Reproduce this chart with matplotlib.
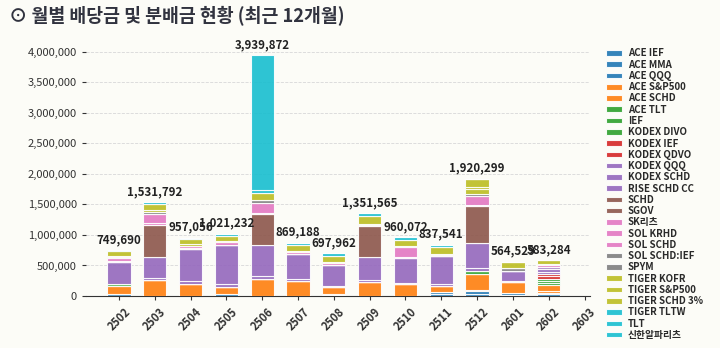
import numpy as np
import matplotlib
matplotlib.use("Agg")
import matplotlib.pyplot as plt
from matplotlib.ticker import FuncFormatter

plt.rcParams['font.family'] = ['Noto Sans CJK KR', 'DejaVu Sans']

months = ["2502", "2503", "2504", "2505", "2506", "2507", "2508",
          "2509", "2510", "2511", "2512", "2601", "2602", "2603"]

series_names = ["ACE IEF", "ACE MMA", "ACE QQQ", "ACE S&P500", "ACE SCHD", "ACE TLT",
                "IEF", "KODEX DIVO", "KODEX IEF", "KODEX QDVO", "KODEX QQQ", "KODEX SCHD",
                "RISE SCHD CC", "SCHD", "SGOV", "SK리츠", "SOL KRHD", "SOL SCHD",
                "SOL SCHD:IEF", "SPYM", "TIGER KOFR", "TIGER S&P500", "TIGER SCHD 3%",
                "TIGER TLTW", "TLT", "신한알파리츠"]

#                2502   2503   2504   2505   2506     2507   2508   2509   2510   2511   2512   2601   2602  2603
ace_ief      = [40000,     0,     0,     0,       0,     0, 20000,     0,     0, 35000, 40000, 20000, 25000, 0]
ace_mma      = [    0,     0,     0,     0,       0,     0, 15000,     0,     0, 35000,     0, 25000,     0, 0]
ace_qqq      = [    0,     0,     0, 35000,       0,     0,     0,     0,     0,     0, 40000,     0, 30000, 0]
ace_sp500    = [    0,     0,     0,     0,       0,     0,     0,     0,     0,     0, 25000,     0, 30000, 0]
ace_schd     = [130000, 255000, 200000, 105000, 275000, 240000, 105000, 230000, 190000, 95000, 262000, 180000, 100000, 0]
ace_tlt      = [    0,     0,     0,     0,       0,     0,     0,     0,     0,     0,     0,     0, 20000, 0]
ief          = [30000,     0,     0,     0,       0,     0,     0,     0,     0,     0,     0,     0, 40000, 0]
kodex_divo   = [    0,     0,     0,     0,       0,     0,     0,     0,     0,     0, 45000,     0, 40000, 0]
kodex_ief    = [    0,     0,     0,     0,       0,     0,     0,     0,     0,     0,     0,     0, 45000, 0]
kodex_qdvo   = [    0,     0,     0,     0,       0,     0,     0,     0,     0,     0,     0,     0, 28000, 0]
kodex_qqq    = [    0, 38000, 45000, 50000,   55000, 40000, 25000, 30000, 30000, 30000, 40000, 20000, 40000, 0]
kodex_schd   = [360000, 345000, 520000, 650000, 505000, 400000, 345000, 380000, 405000, 455000, 420000, 160000, 50000, 0]
rise_schd_cc = [    0,     0,     0,     0,       0,     0,     0,     0,     0,     0,     0,     0, 35000, 0]
schd         = [    0, 520000,     0,     0,  505000,     0,     0, 500000,     0,     0, 600000,     0,     0, 0]
sgov         = [    0,     0,     0,     0,       0,     0,     0,     0,     0,     0,     0,     0,     0, 0]
sk_reits     = [    0, 30000,     0,     0,   25000,     0,     0, 25000, 20000,     0, 25000,     0,     0, 0]
sol_krhd     = [20000,     0, 20000,     0,       0,     0,     0,     0,     0,     0,     0,     0, 20000, 0]
sol_schd     = [35000, 160000, 40000, 40000, 165000, 40000, 30000,     0, 150000, 20000, 148000,     0,     0, 0]
sol_schd_ief = [    0,     0,     0,     0,       0,     0,     0,     0,     0,     0,     0, 55000, 20000, 0]
spym         = [22000, 25000,     0,     0,   40000,     0,     0,     0, 20000,     0, 25000,     0,     0, 0]
tiger_kofr   = [22000, 30000, 20000, 20000,      0, 20000, 20000, 20000,     0, 22000, 88000,     0,     0, 0]
tiger_sp500  = [    0,     0,     0,     0,       0,     0,     0,     0,     0,     0, 20000,     0,     0, 0]
tiger_schd3  = [75000, 100000, 85000, 90000, 120000, 95000, 95000, 130000, 110000, 110000, 142299, 104529, 60284, 0]
tiger_tltw   = [    0,     0,     0,     0,       0,     0,     0,     0,     0,     0,     0,     0,     0, 0]
tlt          = [15690, 28792, 27056, 31232,  38000, 34188, 42962, 36565, 35072, 35541,     0,     0,     0, 0]
shinhan_alpha = [   0,     0,     0,     0, 2211872,     0,     0,     0,     0,     0,     0,     0,     0, 0]

series_values = [ace_ief, ace_mma, ace_qqq, ace_sp500, ace_schd, ace_tlt, ief, kodex_divo,
                 kodex_ief, kodex_qdvo, kodex_qqq, kodex_schd, rise_schd_cc, schd, sgov,
                 sk_reits, sol_krhd, sol_schd, sol_schd_ief, spym, tiger_kofr, tiger_sp500,
                 tiger_schd3, tiger_tltw, tlt, shinhan_alpha]

bg = '#fcfcf7'
fig = plt.figure(figsize=(7.2, 3.48), dpi=100, facecolor=bg)
ax = fig.add_axes([0.1194, 0.1494, 0.70, 0.73])
ax.set_facecolor(bg)

n = len(series_names)
colors = plt.cm.tab10(np.linspace(0, 1, n))
x = np.arange(len(months))
bottom = np.zeros(len(months))
for name, vals, c in zip(series_names, series_values, colors):
    v = np.array(vals, dtype=float)
    ax.bar(x, v, bottom=bottom, width=0.65, color=c, alpha=0.9,
           edgecolor='white', linewidth=0.8, label=name, zorder=3)
    bottom += v

totals = bottom
for xi, t in zip(x, totals):
    if t > 0:
        ax.annotate(f"{int(round(t)):,}", (xi, t), xytext=(0, 3), textcoords='offset points',
                    ha='center', va='bottom', fontsize=8.3, fontweight='bold', color='#222222')

ax.set_xlim(-0.92, 13.15)
ax.set_ylim(0, 4160000)
ax.set_yticks(np.arange(0, 4000001, 500000))
ax.yaxis.set_major_formatter(FuncFormatter(lambda v, p: f"{int(v):,}"))
ax.set_xticks(x)
ax.set_xticklabels(months, rotation=45, ha='center', fontsize=8, fontweight='bold')
ax.tick_params(axis='y', labelsize=8, colors='#333333', length=3)
ax.tick_params(axis='x', colors='#333333', length=3)
ax.grid(axis='y', linestyle='--', color='#d8d8d8', linewidth=0.6, zorder=0)
for s in ['top', 'right', 'left']:
    ax.spines[s].set_visible(False)
ax.spines['bottom'].set_color('#333333')

leg = ax.legend(loc='upper left', bbox_to_anchor=(1.025, 0.99), frameon=False,
                prop={'size': 7.0, 'weight': 'bold'},
                handlelength=1.6, handleheight=0.5,
                labelspacing=0.13, handletextpad=0.6, borderaxespad=0)
for t in leg.get_texts():
    t.set_color('#2a2a2a')

fig.text(0.012, 0.955, "⊙ 월별 배당금 및 분배금 현황 (최근 12개월)", fontsize=13.2,
         fontweight='bold', color='#31333f', va='center', ha='left')

fig.savefig("out.png", dpi=100, facecolor=bg)
